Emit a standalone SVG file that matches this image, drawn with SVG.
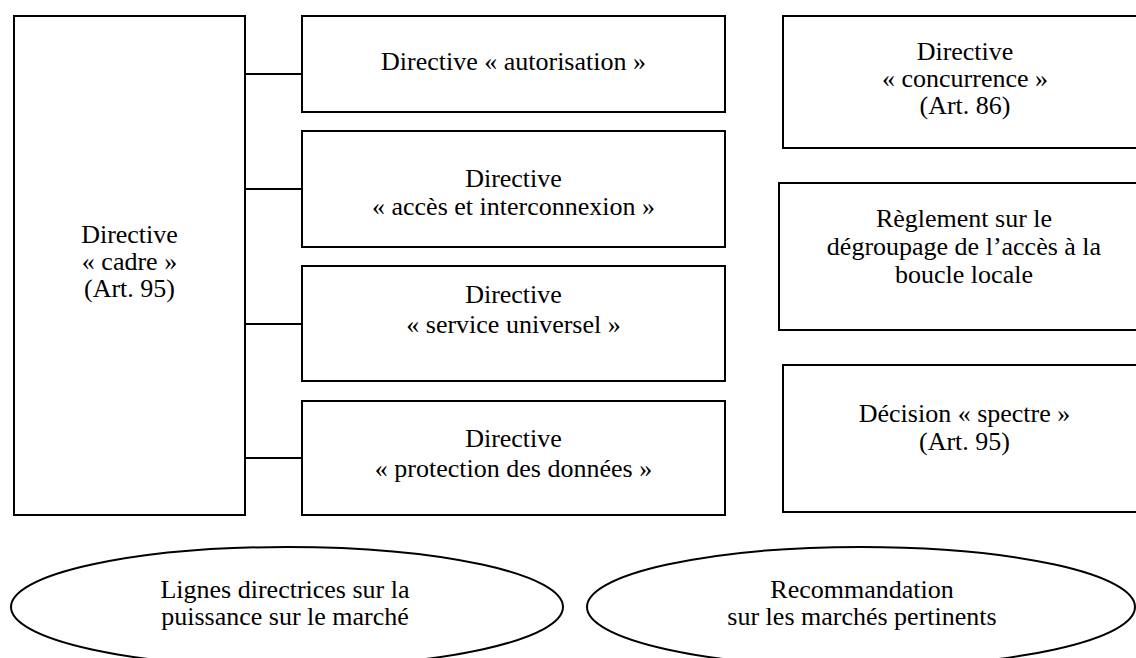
<svg xmlns="http://www.w3.org/2000/svg" width="1136" height="658" viewBox="0 0 1136 658" font-family="'Liberation Serif', 'Times New Roman', Times, serif">
<style>
.box{fill:#fff;stroke:#000;stroke-width:2}
.ell{fill:#fff;stroke:#000;stroke-width:2}
.con{stroke:#000;stroke-width:2;fill:none}
text{font-family:'Liberation Serif','Times New Roman',Times,serif;font-size:26px;fill:#000;text-anchor:middle}
</style>
<rect width="1136" height="658" fill="#fff"/>
<g id="connectors">
<line class="con" x1="245" y1="74" x2="302" y2="74"/>
<line class="con" x1="245" y1="189" x2="302" y2="189"/>
<line class="con" x1="245" y1="324" x2="302" y2="324"/>
<line class="con" x1="245" y1="458" x2="302" y2="458"/>
</g>
<g id="cadre">
<rect class="box" x="14" y="16" width="231" height="499"/>
<text x="129.5" y="243">Directive</text>
<text x="129.5" y="270">« cadre »</text>
<text x="129.5" y="297">(Art. 95)</text>
</g>
<g id="autorisation">
<rect class="box" x="302" y="16" width="423" height="96"/>
<text x="513.5" y="70">Directive « autorisation »</text>
</g>
<g id="acces">
<rect class="box" x="302" y="131" width="423" height="116"/>
<text x="513.5" y="187">Directive</text>
<text x="513.5" y="215">« accès et interconnexion »</text>
</g>
<g id="service">
<rect class="box" x="302" y="266" width="423" height="115"/>
<text x="513.5" y="303">Directive</text>
<text x="513.5" y="333">« service universel »</text>
</g>
<g id="protection">
<rect class="box" x="302" y="401" width="423" height="114"/>
<text x="513.5" y="447">Directive</text>
<text x="513.5" y="477">« protection des données »</text>
</g>
<g id="concurrence">
<rect class="box" x="783" y="16" width="364" height="132"/>
<text x="965" y="60">Directive</text>
<text x="965" y="87">« concurrence »</text>
<text x="965" y="114">(Art. 86)</text>
</g>
<g id="degroupage">
<rect class="box" x="779" y="183" width="370" height="147"/>
<text x="964" y="227">Règlement sur le</text>
<text x="964" y="255">dégroupage de l’accès à la</text>
<text x="964" y="283">boucle locale</text>
</g>
<g id="spectre">
<rect class="box" x="783" y="365" width="364" height="147"/>
<text x="964.5" y="422">Décision « spectre »</text>
<text x="964.5" y="450">(Art. 95)</text>
</g>
<g id="lignes">
<ellipse class="ell" cx="287" cy="607" rx="276" ry="60"/>
<text x="285" y="598">Lignes directrices sur la</text>
<text x="285" y="625">puissance sur le marché</text>
</g>
<g id="recommandation">
<ellipse class="ell" cx="861" cy="607" rx="274" ry="60"/>
<text x="862" y="598">Recommandation</text>
<text x="862" y="625">sur les marchés pertinents</text>
</g>
</svg>
